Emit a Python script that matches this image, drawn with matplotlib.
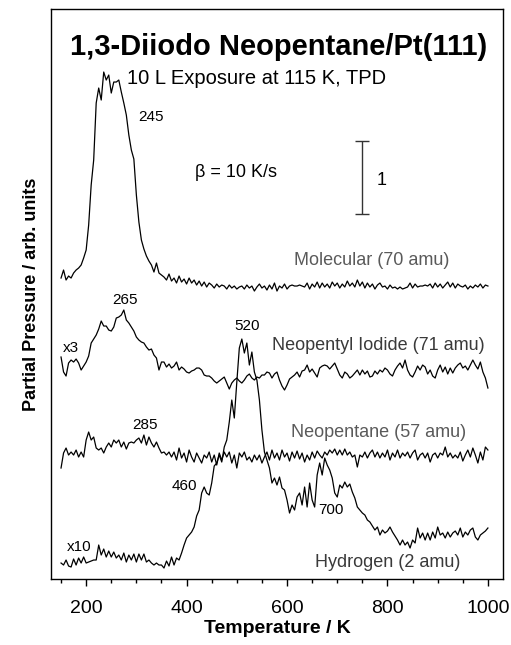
import numpy as np
import matplotlib
matplotlib.use("Agg")
import matplotlib.pyplot as plt

plt.rcParams['font.family'] = ['Liberation Sans', 'DejaVu Sans']

# temperature grid of the TPD traces (K)
temp = np.arange(150, 1001, 5)

# desorption signals, arb. units (scale bar below = 73 units)
molecular = [
    11, 19, 9, 13, 11, 16, 19, 21, 24, 31,
    39, 64, 104, 129, 186, 201, 189, 217, 209, 214,
    196, 207, 207, 209, 197, 186, 174, 154, 139, 130,
    94, 67, 49, 40, 33, 28, 24, 17, 26, 16,
    14, 12, 9, 15, 8, 11, 6, 13, 7, 10,
    5, 11, 6, 9, 4, 8, 3, 7, 2, 6,
    4, 1, 5, 2, 4, 3, 0, 4, 1, 3,
    0, 2, 3, 0, 4, 1, 3, -2, 2, 5,
    1, 3, -1, 4, 0, 6, -2, 3, 1, 5,
    0, 3, 4, 3, 3, 4, 3, 2, 6, 0,
    5, 2, 7, 1, 6, 2, 5, 1, 7, 3,
    6, 1, 5, 2, 8, 3, 6, 2, 9, 3,
    7, 1, 6, 2, 5, 0, 4, 6, 2, 3,
    0, 4, 1, 2, 0, 2, 0, 1, 2, 6,
    1, 5, 2, 3, 3, 4, 3, 5, 1, 6,
    2, 5, 1, 4, 7, 2, 6, 1, 5, 3,
    2, 4, 0, 3, 1, 4, 2, 5, 1, 4,
    3]

neopentyl_iodide = [
    17, 2, -2, 11, 14, 12, 15, 11, 4, 8,
    12, 18, 31, 35, 39, 45, 53, 48, 48, 44,
    43, 47, 56, 57, 59, 64, 54, 51, 47, 43,
    37, 34, 32, 31, 27, 24, 25, 19, 16, 4,
    12, 12, 7, 10, 6, 8, 12, 4, 7, 5,
    2, 1, 3, 4, 6, 6, 4, -1, -2, -2,
    -4, -7, -9, -7, -5, -3, -9, -15, -9, -6,
    -4, -7, -9, -6, -2, 0, -4, -6, -3, -4,
    -1, -1, 2, 1, -4, 0, 2, -6, -12, -16,
    -11, -5, -3, -1, 2, -3, 3, 4, 9, 2,
    5, 1, -3, 6, 8, 9, 8, 5, 8, 11,
    5, -1, -4, 2, 0, -4, -2, 1, 4, -1,
    4, 0, 3, -3, -2, 3, 0, 4, 2, 6,
    4, 0, -2, 4, 8, 11, 6, 14, 4, -1,
    -3, 2, 8, 4, 9, 7, 0, 4, -2, -4,
    4, 9, 2, 7, 0, 6, 1, 6, 9, 11,
    6, 8, 4, 9, 14, 9, 5, 12, 2, -4,
    -14]

neopentane = [
    -11, 4, 9, 2, 5, 2, 7, 0, 5, 0,
    17, 25, 17, 20, 9, 7, 9, 4, 10, 14,
    10, 17, 14, 17, 10, 15, 8, 14, 15, 14,
    17, 19, 14, 22, 12, 20, 14, 10, 15, 9,
    4, 5, 2, 5, 0, 5, -3, 9, -1, 4,
    -5, 7, 0, -5, 4, -1, -6, 2, -1, 5,
    -5, 2, -8, 4, -3, 5, 0, 5, -6, 2,
    -11, 4, 0, 5, -3, 0, -5, 2, -3, 2,
    -6, 0, 5, -3, 7, -1, 4, -3, 7, 0,
    4, -4, 5, -1, 6, -2, 4, -5, 2, -3,
    5, -1, 6, 2, -1, 5, 2, 7, 4, 8,
    2, 7, 2, 8, 2, 5, 0, 2, -10, 2,
    0, 5, -1, 4, 7, 0, 5, -1, 4, 0,
    7, -3, 4, 0, 7, -1, 4, 1, 5, -1,
    4, 7, -3, 2, 4, -1, 4, -5, 2, 4,
    -1, 4, 2, 10, 0, 4, -1, 2, -1, 5,
    -4, 2, 7, 0, 9, 2, -6, 5, -3, 10,
    7]

hydrogen = [
    0, -2, 3, -3, -4, 4, -2, 5, 0, 6,
    0, 1, 2, 3, 3, 18, 8, 14, 6, 12,
    6, 11, 5, 8, 3, 10, 1, 8, 3, 9,
    1, 9, 3, 9, 1, 3, 0, -2, 0, -2,
    -2, -5, 2, -3, 6, -2, 5, 3, 10, 18,
    25, 28, 31, 36, 47, 53, 70, 76, 70, 68,
    80, 97, 100, 108, 101, 116, 123, 141, 163, 145,
    181, 215, 224, 210, 220, 198, 211, 191, 183, 163,
    133, 111, 103, 95, 80, 85, 78, 86, 75, 73,
    63, 50, 58, 53, 66, 70, 58, 76, 56, 80,
    63, 56, 88, 100, 88, 105, 98, 93, 85, 70,
    66, 78, 75, 81, 76, 79, 71, 65, 56, 53,
    50, 48, 43, 41, 37, 33, 36, 28, 33, 30,
    32, 36, 31, 27, 23, 18, 23, 18, 21, 15,
    23, 20, 35, 25, 30, 23, 30, 23, 31, 25,
    36, 28, 30, 25, 31, 26, 30, 32, 28, 35,
    26, 31, 28, 33, 35, 26, 23, 28, 30, 32,
    35]

fig = plt.figure(figsize=(5.11, 6.45), dpi=100)
ax = fig.add_axes([0.0998, 0.1023, 0.8845, 0.8837])

# stack the traces
ax.plot(temp, np.array(molecular) + 290, color='black', lw=0.9)
ax.plot(temp, np.array(neopentyl_iodide) + 205, color='black', lw=0.9)
ax.plot(temp, np.array(neopentane) + 122, color='black', lw=0.9)
ax.plot(temp, np.array(hydrogen) + 16, color='black', lw=0.9)

ax.set_xlim(130, 1030)
ax.set_ylim(0, 570)
ax.set_yticks([])
ax.set_xticks([200, 400, 600, 800, 1000])
ax.set_xticks(np.arange(150, 1001, 50), minor=True)
ax.tick_params(axis='x', which='major', direction='out', length=5, width=1,
               labelsize=14, pad=10)
ax.tick_params(axis='x', which='minor', direction='out', length=3, width=1)
for sp in ax.spines.values():
    sp.set_linewidth(1)

ax.set_xlabel('Temperature / K', fontsize=14, fontweight='bold', labelpad=2)
ax.set_ylabel('Partial Pressure / arb. units', fontsize=13, fontweight='bold',
              labelpad=8)

# titles and annotations
ax.text(583, 532, '1,3-Diiodo Neopentane/Pt(111)', fontsize=21,
        fontweight='bold', ha='center', va='center')
ax.text(540, 501, '10 L Exposure at 115 K, TPD', fontsize=14.5,
        ha='center', va='center')
ax.text(498, 407, '\u03b2 = 10 K/s', fontsize=13, ha='center', va='center')

# scale bar
ax.errorbar([750], [401.5], yerr=[36.5], color='#333333', lw=1, capsize=5,
            capthick=1)
ax.text(788, 399, '1', fontsize=13, ha='center', va='center')

peaks = [(329, 462, '245'), (278, 279, '265'), (521, 253, '520'),
         (318, 154, '285'), (396, 93, '460'), (688, 69, '700'),
         (170, 231, 'x3'), (187, 32, 'x10')]
for x, y, s in peaks:
    ax.text(x, y, s, fontsize=11, ha='center', va='center')

labels = [(768, 319, 'Molecular (70 amu)', '#5a5a5a'),
          (781, 234, 'Neopentyl Iodide (71 amu)', '#3a3a3a'),
          (782, 147, 'Neopentane (57 amu)', '#5a5a5a'),
          (801, 17, 'Hydrogen (2 amu)', '#3a3a3a')]
for x, y, s, c in labels:
    ax.text(x, y, s, fontsize=13, color=c, ha='center', va='center')

fig.savefig('out.png', dpi=100)
